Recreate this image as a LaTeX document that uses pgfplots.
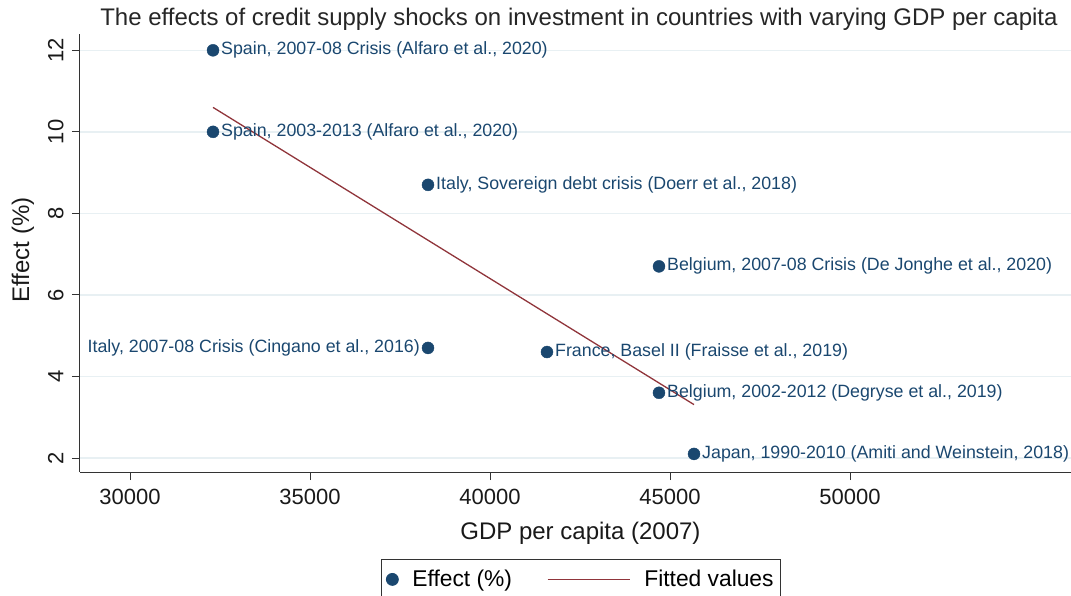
\documentclass[border=0pt]{standalone}
\usepackage{fontspec}
\setmainfont{Liberation Sans}
\usepackage{pgfplots}
\pgfplotsset{compat=1.18}
\definecolor{snavy}{RGB}{26,71,111}
\definecolor{smaroon}{RGB}{144,53,59}
\definecolor{sgrid}{RGB}{232,240,243}
\pgfplotsset{fitlegend/.style={legend image code/.code={\draw[##1] (0pt,0pt) -- (82pt,0pt);}}}
\begin{document}
\begin{tikzpicture}
\begin{axis}[
  at={(0pt,0pt)}, anchor=south west,
  scale only axis, width=991pt, height=438pt,
  xmin=28611, xmax=56139, ymin=1.657, ymax=12.4,
  axis x line*=bottom, axis y line*=left,
  axis line style={-, black!80, line width=1pt},
  xtick={30000,35000,40000,45000,50000},
  ytick={2,4,6,8,10,12},
  scaled x ticks=false,
  xticklabel={\pgfmathprintnumber[fixed,precision=0,1000 sep={}]{\tick}},
  tick align=outside, major tick length=8pt,
  tick style={black!80, line width=1pt},
  ymajorgrids, grid style={sgrid, line width=1.5pt},
  /pgf/number format/assume math mode=true,
  /pgf/number format/1000 sep={},
  ticklabel style={font=\fontsize{22}{26}\selectfont, text=black!90},
  yticklabel style={rotate=90, anchor=south},
  xticklabel shift=6pt, yticklabel shift=5pt,
  xlabel={GDP per capita (2007)},
  ylabel={Effect (\%)},
  xlabel style={at={(axis description cs:0.505,-0.139)}, anchor=center, font=\fontsize{24}{28}\selectfont, text=black!90},
  ylabel style={at={(axis description cs:-0.0575,0.507)}, anchor=center, rotate=0, font=\fontsize{24}{28}\selectfont, text=black!90},
  title={The effects of credit supply shocks on investment in countries with varying GDP per capita},
  title style={at={(axis description cs:0.5035,1.019)}, anchor=center, yshift=0pt, font=\fontsize{24}{28}\selectfont, text=black!85},
  clip=false,
  legend style={at={(0.3037,-0.1986)}, anchor=north west, draw=black!80, line width=0.8pt,
    inner xsep=5pt, inner ysep=9pt,
    font=\fontsize{22.8}{26}\selectfont, legend columns=2,
    /tikz/every odd column/.append style={column sep=12pt},
    /tikz/every even column/.append style={column sep=33pt}},
]
\addplot[only marks, mark=*, mark size=6pt, color=snavy] coordinates {
  (32306,12) (32306,10) (38278,8.7) (44694,6.7) (38278,4.7) (41583,4.6) (44694,3.6) (45667,2.1)
};
\addlegendentry{Effect (\%)}
\addplot[smaroon, line width=1.3pt, mark=none, fitlegend] coordinates {
  (32306,10.60) (45667,3.31)
};
\addlegendentry{Fitted values}
\addplot[forget plot, only marks, mark=none, nodes near coords, point meta=explicit symbolic,
  nodes near coords style={font=\fontsize{17.8}{20}\selectfont, text=snavy, anchor=west, xshift=8pt, inner sep=0pt}] coordinates {
  (32306,12) [Spain, 2007-08 Crisis (Alfaro et al., 2020)]
  (32306,10) [Spain, 2003-2013 (Alfaro et al., 2020)]
  (38278,8.7) [Italy, Sovereign debt crisis (Doerr et al., 2018)]
  (44694,6.7) [Belgium, 2007-08 Crisis (De Jonghe et al., 2020)]
  (41583,4.6) [France, Basel II (Fraisse et al., 2019)]
  (44694,3.6) [Belgium, 2002-2012 (Degryse et al., 2019)]
  (45667,2.1) [Japan, 1990-2010 (Amiti and Weinstein, 2018)]
};
\addplot[forget plot, only marks, mark=none, nodes near coords, point meta=explicit symbolic,
  nodes near coords style={font=\fontsize{17.8}{20}\selectfont, text=snavy, anchor=east, xshift=-8pt, inner sep=0pt}] coordinates {
  (38278,4.7) [Italy, 2007-08 Crisis (Cingano et al., 2016)]
};
\end{axis}
\pgfresetboundingbox
\path (-80pt,-123pt) rectangle (991pt,472pt);
\end{tikzpicture}
\end{document}
